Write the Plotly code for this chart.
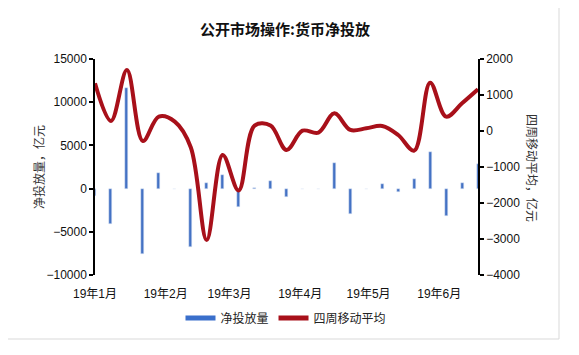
import plotly.graph_objects as go
import pandas as pd

# ---- data ----
dates = pd.date_range("2019-01-04", periods=25, freq="7D")
net_injection = [-800, -4100, 11600, -7600, 1760, 0, -6740, 600, 1560, -2100,
                 100, 870, -1020, 0, 0, 2990, -2990, 0, 520, -370,
                 1060, 4220, -3180, 600, 2800]
moving_avg = [1325, 278, 1694, -278, 398, 260, -450, -3028, -667, -1650,
              150, 150, -528, 8, -46, 491, 28, 74, 139, -111,
              -546, 1343, 398, 768, 1157]
tick_dates = pd.to_datetime(["2019-01-04", "2019-02-04", "2019-03-04",
                             "2019-04-04", "2019-05-04", "2019-06-04"])
tick_labels = ["19年1月", "19年2月", "19年3月", "19年4月", "19年5月", "19年6月"]

BLUE = "#4472C4"
RED = "#A8101A"
CJK = "Noto Sans CJK SC"
NUM = "Liberation Sans, Arial, Noto Sans CJK SC"

OFF = 8  # page body margin
W, H = 579 - OFF, 355 - OFF
L, R, T, B = 95 - OFF, 101, 59 - OFF, 80
pw, ph = W - L - R, H - T - B

def px_x(p):
    return (p - OFF - L) / pw

def px_y(p):
    return (H - B - (p - OFF)) / ph

fig = go.Figure()
fig.add_trace(go.Bar(x=dates, y=net_injection, marker_color=BLUE,
                     width=1.3 * 86400000, showlegend=False, name="净投放量"))
fig.add_trace(go.Scatter(x=dates, y=moving_avg, yaxis="y2", mode="lines",
                         line=dict(color=RED, width=4, shape="spline", smoothing=1.0),
                         showlegend=False, name="四周移动平均"))
# legend proxies
fig.add_trace(go.Scatter(x=[None], y=[None], mode="lines", name="净投放量",
                         line=dict(color="#3A6FCB", width=5)))
fig.add_trace(go.Scatter(x=[None], y=[None], mode="lines", name="四周移动平均",
                         line=dict(color=RED, width=5), yaxis="y2"))

xr = [dates[0], dates[-1]]
fig.update_layout(
    width=W, height=H,
    margin=dict(l=L, r=R, t=T, b=B),
    paper_bgcolor="white", plot_bgcolor="white",
    title=dict(text="<b>公开市场操作:货币净投放</b>", x=(285 - OFF) / W, xanchor="center",
               y=1 - (30 - OFF) / H, yanchor="middle",
               font=dict(family=CJK, size=15, color="#111")),
    xaxis=dict(type="date", range=xr, tickvals=tick_dates, ticktext=tick_labels,
               showline=False, ticks="outside", ticklen=8, tickcolor="rgba(0,0,0,0)",
               showgrid=False, zeroline=False,
               tickfont=dict(family=NUM, size=12, color="#111")),
    xaxis2=dict(type="date", range=xr, overlaying="x", anchor="free",
                position=0.4, tickvals=tick_dates,
                showticklabels=False, ticks="outside", ticklen=4, tickwidth=1.5,
                tickcolor="black", showline=True, linecolor="black", linewidth=1.5,
                showgrid=False, zeroline=False, side="bottom"),
    yaxis=dict(range=[-10000, 15000], dtick=5000, tickformat="d", showline=True,
               linecolor="black", linewidth=1.5, ticks="outside", ticklen=4,
               tickwidth=1.5, tickcolor="black", showgrid=False, zeroline=False,
               tickfont=dict(family=NUM, size=12, color="#111")),
    yaxis2=dict(range=[-4000, 2000], dtick=1000, tickformat="d", overlaying="y",
                side="right", showline=True, linecolor="black", linewidth=1.5,
                ticks="outside", ticklen=4, tickwidth=1.5, tickcolor="black",
                showgrid=False, zeroline=False,
                tickfont=dict(family=NUM, size=12, color="#111")),
    legend=dict(orientation="h", x=px_x(286), xanchor="center", y=px_y(318),
                yanchor="middle", font=dict(family=CJK, size=12, color="#222"),
                bgcolor="rgba(0,0,0,0)", itemwidth=30, tracegroupgap=0),
    annotations=[
        dict(text="净投放量，亿元", xref="paper", yref="paper", x=px_x(38), y=px_y(167),
             xanchor="center", yanchor="middle", textangle=-90, showarrow=False,
             font=dict(family=CJK, size=12, color="#333")),
        dict(text="四周移动平均，亿元", xref="paper", yref="paper", x=px_x(533), y=px_y(168),
             xanchor="center", yanchor="middle", textangle=90, showarrow=False,
             font=dict(family=CJK, size=12, color="#333")),
    ],
    shapes=[dict(type="rect", xref="paper", yref="paper", x0=px_x(7), x1=px_x(559),
                 y0=px_y(339), y1=px_y(7), line=dict(color="#D9D9D9", width=1),
                 layer="below")],
    bargap=0,
)
fig.write_html("out.html")
